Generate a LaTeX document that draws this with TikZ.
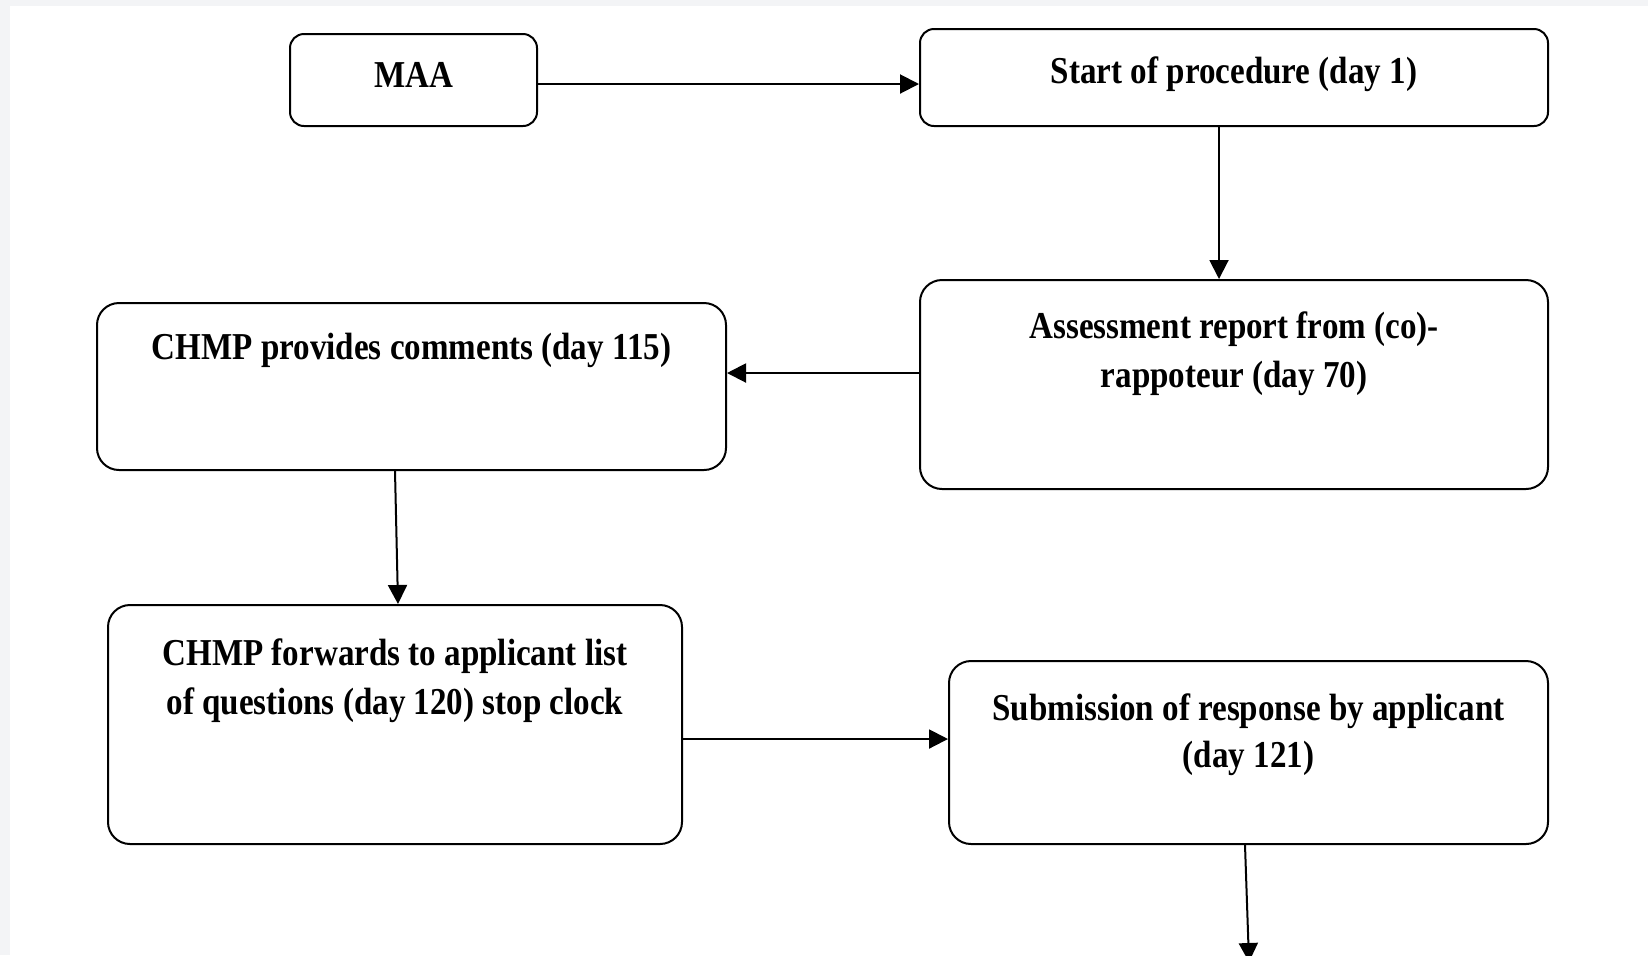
\documentclass[tikz,border=0pt]{standalone}
\usepackage{fontspec}
\setmainfont[FakeStretch=0.87]{Liberation Serif}
\usetikzlibrary{arrows.meta}
\definecolor{pagegray}{HTML}{F3F4F6}
\begin{document}
\begin{tikzpicture}[x=0.5pt,y=-0.5pt,
  box/.style={draw=black, line width=1pt, fill=white, inner sep=0pt, rounded corners=11pt},
  smallbox/.style={box, rounded corners=7pt},
  txt/.style={font=\fontsize{19pt}{24.5pt}\selectfont\bfseries, align=center, inner sep=0pt, anchor=center},
  arr/.style={line width=1pt, -{Triangle[length=9.5pt,width=9.5pt]}}]
\useasboundingbox (0,0) rectangle (1648,955);
\fill[pagegray] (0,0) rectangle (1648,955);
\fill[white] (10,6) rectangle (1648,955);
% boxes
\node[smallbox, minimum width=123.5pt, minimum height=46pt] (maa) at (413.5,80) {};
\node[smallbox, minimum width=314pt, minimum height=48.5pt] (st) at (1234,77.5) {};
\node[box, minimum width=314pt, minimum height=104.5pt] (as) at (1234,384.5) {};
\node[box, minimum width=314.5pt, minimum height=83.5pt] (cp) at (411.5,386.5) {};
\node[box, minimum width=287pt, minimum height=119.5pt] (cf) at (395,724.5) {};
\node[box, minimum width=299.5pt, minimum height=91.5pt] (sb) at (1248.5,752.5) {};
% texts
\node[txt] (tmaa) at (413.5,74.5) {MAA};
\node[txt] (tst) at (1234,74) {Start of procedure (day 1)};
\node[txt] (tas) at (1234,354) {Assessment report from (co)-\\rappoteur (day 70)};
\node[txt] (tcp) at (411.5,350.5) {CHMP provides comments (day 115)};
\node[txt] (tcf) at (395,681) {CHMP forwards to applicant list\\of questions (day 120) stop clock};
\node[txt, font=\fontsize{19pt}{23.5pt}\selectfont\bfseries] (tsb) at (1248.5,734.5) {Submission of response by applicant\\(day 121)};
% connectors
\coordinate (down) at (1249,962);
\draw[arr] ([yshift=-2pt]maa.east) -- ([yshift=-2pt]maa.east -| st.west);
\draw[arr] ([xshift=-7.5pt]st.south) -- ([xshift=-7.5pt]st.south |- as.north);
\draw[arr] ([yshift=5.75pt]as.west) -- ([yshift=5.75pt]as.west -| cp.east);
\draw[arr] ([xshift=-8.25pt]cp.south) -- ([xshift=1.5pt]cf.north);
\draw[arr] ([yshift=-7.25pt]cf.east) -- ([yshift=-7.25pt]cf.east -| sb.west);
\draw[arr] ([xshift=-1.75pt]sb.south) -- (down);
\end{tikzpicture}
\end{document}
